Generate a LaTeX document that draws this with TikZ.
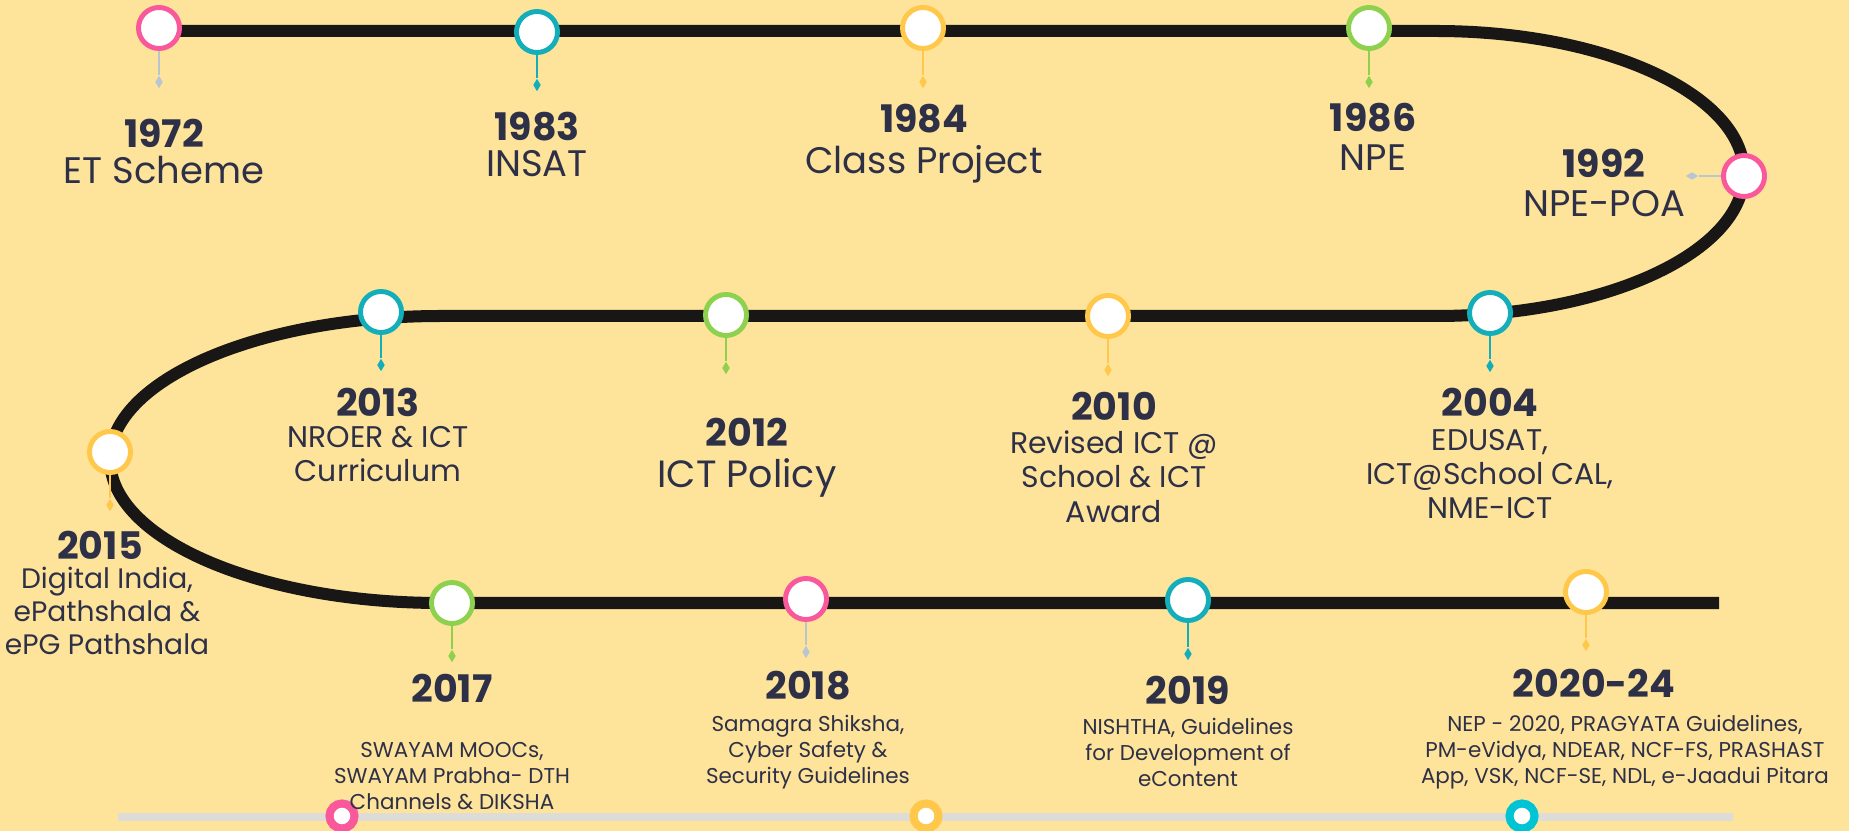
\documentclass[tikz,border=0pt]{standalone}
\usepackage{fontspec}
\setmainfont{Poppins}
\usetikzlibrary{positioning,shapes.geometric}
\definecolor{bg}{HTML}{FEE49A}
\definecolor{ink}{HTML}{2E3048}
\definecolor{trackc}{HTML}{181715}
\definecolor{pinkc}{HTML}{F9589B}
\definecolor{tealc}{HTML}{14AEBB}
\definecolor{goldc}{HTML}{FFC84A}
\definecolor{greenc}{HTML}{8ED14F}
\definecolor{greyc}{HTML}{B9C6D2}
\definecolor{barc}{HTML}{DEDCD8}
\definecolor{cyanc}{HTML}{00C4D4}
\tikzset{
  ring/.style={circle,draw=#1,fill=white,line width=1.4pt,minimum size=0.41cm,inner sep=0pt},
  knob/.style={circle,draw=#1,fill=white,line width=2.3pt,minimum size=0.25cm,inner sep=0pt},
  gem/.style={diamond,fill=#1,inner sep=0pt,minimum width=0.08cm,minimum height=0.13cm},
  stem/.style={draw=#1,line width=0.6pt},
  track/.style={draw=trackc,line width=0.12cm},
  yr/.style={font=\fontsize{10.8}{12}\selectfont\bfseries,text=ink,inner sep=0pt},
  big/.style={font=\fontsize{10.5}{12}\selectfont,text=ink,inner sep=0pt,align=center},
  mid/.style={font=\fontsize{8.5}{9.7}\selectfont,text=ink,inner sep=0pt,align=center},
  fine/.style={font=\fontsize{6.1}{7.4}\selectfont,text=ink,inner sep=0pt,align=center}
}
\begin{document}
\begin{tikzpicture}[x=0.01cm,y=-0.01cm]
\fill[bg] (0,0) rectangle (1849,831);
\useasboundingbox (0,0) rectangle (1849,831);
% the winding road
\coordinate (start) at (159,31);
\coordinate (stop) at (1719,603);
\draw[track] (start) -- (1436,31) .. controls (1606,31) and (1744,94.8) .. (1744,173.5)
  .. controls (1744,252.2) and (1606,316) .. (1436,316) -- (441,316)
  .. controls (258.3,316) and (110,380.3) .. (110,459.5)
  .. controls (110,538.7) and (258.3,603) .. (441,603) -- (stop);
% slider bar at the foot
\coordinate (barL) at (118,817);
\coordinate (barR) at (1733,817);
\draw[barc,line width=0.08cm] (barL) -- (barR);
\node[knob=pinkc] (k1) at (342,816) {};
\node[knob=goldc] (k2) at (926,816) {};
\node[knob=cyanc] (k3) at (1522,816) {};
% milestones
\node[ring=pinkc] (c1972) at (159,28) {};
\node[ring=tealc] (c1983) at (537,32) {};
\node[ring=goldc] (c1984) at (923,28) {};
\node[ring=greenc] (c1986) at (1369,28) {};
\node[ring=pinkc] (c1992) at (1744,176) {};
\node[ring=tealc] (c2004) at (1490,313) {};
\node[ring=goldc] (c2010) at (1108,316) {};
\node[ring=greenc] (c2012) at (726,315) {};
\node[ring=tealc] (c2013) at (381,312) {};
\node[ring=goldc] (c2015) at (110,452) {};
\node[ring=greenc] (c2017) at (452,603) {};
\node[ring=pinkc] (c2018) at (806,599) {};
\node[ring=tealc] (c2019) at (1188,600) {};
\node[ring=goldc] (c2020) at (1586,592) {};
% diamond ends
\node[gem=greyc] (g1972) at (159,82) {};
\node[gem=tealc] (g1983) at (537,85) {};
\node[gem=goldc] (g1984) at (923,82) {};
\node[gem=greenc] (g1986) at (1369,82) {};
\node[gem=greyc,minimum width=0.13cm,minimum height=0.08cm] (g1992) at (1692,176) {};
\node[gem=tealc] (g2004) at (1490,366) {};
\node[gem=goldc] (g2010) at (1108,370) {};
\node[gem=greenc] (g2012) at (726,368) {};
\node[gem=tealc] (g2013) at (381,365) {};
\node[gem=goldc] (g2015) at (110,505) {};
\node[gem=greenc] (g2017) at (452,656) {};
\node[gem=greyc] (g2018) at (806,652) {};
\node[gem=tealc] (g2019) at (1188,654) {};
\node[gem=goldc] (g2020) at (1586,645) {};
\draw[stem=greyc] (c1972) -- (g1972);
\draw[stem=tealc] (c1983) -- (g1983);
\draw[stem=goldc] (c1984) -- (g1984);
\draw[stem=greenc] (c1986) -- (g1986);
\draw[stem=greyc] (c1992) -- (g1992);
\draw[stem=tealc] (c2004) -- (g2004);
\draw[stem=goldc] (c2010) -- (g2010);
\draw[stem=greenc] (c2012) -- (g2012);
\draw[stem=tealc] (c2013) -- (g2013);
\draw[stem=goldc] (c2015) -- (g2015);
\draw[stem=greenc] (c2017) -- (g2017);
\draw[stem=greyc] (c2018) -- (g2018);
\draw[stem=tealc] (c2019) -- (g2019);
\draw[stem=goldc] (c2020) -- (g2020);
% years and what came with them
\node[yr] (y1972) at (164,133) {1972};
\node[big,below=2.2pt of y1972] (t1972) {ET Scheme};
\node[yr] (y1983) at (537,127) {1983};
\node[big,below=2.2pt of y1983] (t1983) {INSAT};
\node[yr] (y1984) at (924,119) {1984};
\node[big,below=3pt of y1984] (t1984) {Class Project};
\node[yr] (y1986) at (1373,118) {1986};
\node[big,below=3pt of y1986] (t1986) {NPE};
\node[yr] (y1992) at (1604,163) {1992};
\node[big,below=3.3pt of y1992] (t1992) {NPE-POA};
\node[yr] (y2004) at (1490,402) {2004};
\node[mid,below=3.3pt of y2004] (t2004) {EDUSAT,\\ICT@School CAL,\\NME-ICT};
\node[yr] (y2010) at (1114,406) {2010};
\node[mid,below=2.7pt of y2010] (t2010) {Revised ICT @\\School \& ICT\\Award};
\node[yr] (y2012) at (747,432) {2012};
\node[big,font=\fontsize{10.8}{12}\selectfont,below=3pt of y2012] (t2012) {ICT Policy};
\node[yr] (y2013) at (378,402) {2013};
\node[mid,below=2.4pt of y2013] (t2013) {NROER \& ICT\\Curriculum};
\node[yr] (y2015) at (100,545) {2015};
\node[mid,font=\fontsize{8}{9.4}\selectfont,below=1.9pt of y2015,xshift=2pt] (t2015) {Digital India,\\ePathshala \&\\ePG Pathshala};
\node[yr] (y2017) at (452,688) {2017};
\node[fine,below=11pt of y2017] (t2017) {SWAYAM MOOCs,\\SWAYAM Prabha- DTH\\Channels \& DIKSHA};
\node[yr] (y2018) at (808,686) {2018};
\node[fine,below=3.9pt of y2018] (t2018) {Samagra Shiksha,\\Cyber Safety \&\\Security Guidelines};
\node[yr] (y2019) at (1188,690) {2019};
\node[fine,below=3.6pt of y2019] (t2019) {NISHTHA, Guidelines\\for Development of\\eContent};
\node[yr] (y2020) at (1594,683) {2020-24};
\node[fine,below=4.7pt of y2020,xshift=8.8pt] (t2020) {NEP - 2020, PRAGYATA Guidelines,\\PM-eVidya, NDEAR, NCF-FS, PRASHAST\\App, VSK, NCF-SE, NDL, e-Jaadui Pitara};
\end{tikzpicture}
\end{document}
